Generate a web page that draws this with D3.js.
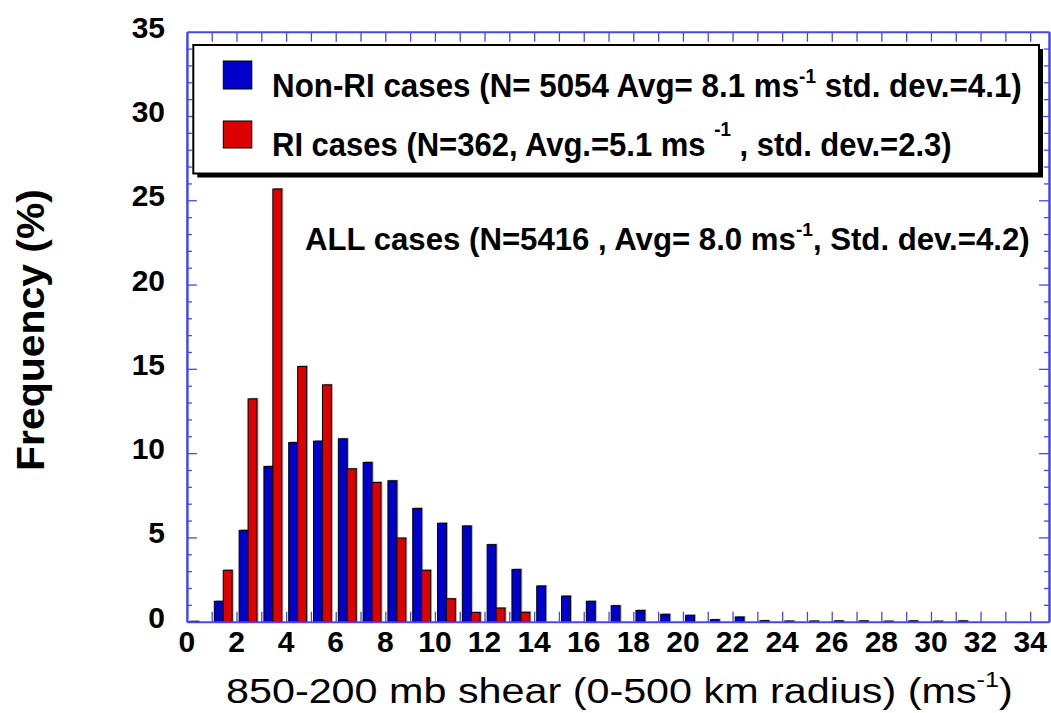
<!DOCTYPE html>
<html>
<head>
<meta charset="utf-8">
<script src="https://cdn.jsdelivr.net/npm/d3@7"></script>
<style>
  body { margin: 0; background: #fff; }
  svg text { font-family: "Liberation Sans", Arial, Helvetica, sans-serif; }
</style>
</head>
<body>
<svg id="chart" width="1051" height="713"></svg>
<script>
// shear bins (m/s), one bar pair per 1 m/s bin
const bins = d3.range(0, 32);
// Non-RI frequency (%)
const nonRI = [0.02, 1.21, 5.42, 9.21, 10.63, 10.71, 10.85, 9.45, 8.36, 6.72,
  5.84, 5.68, 4.57, 3.10, 2.12, 1.52, 1.21, 0.95, 0.67, 0.44,
  0.38, 0.12, 0.28, 0.06, 0.04, 0.04, 0.05, 0.05, 0.03, 0.05, 0.03, 0.05];
// RI frequency (%)
const ri = [0, 3.05, 13.22, 25.67, 15.14, 14.05, 9.07, 8.26, 4.96, 3.05,
  1.36, 0.55, 0.81, 0.56, 0, 0, 0, 0, 0, 0,
  0, 0, 0, 0, 0, 0, 0, 0, 0, 0, 0, 0];
const xLabels = d3.range(0, 35, 2);
const yLabels = d3.range(0, 40, 5);

const svg = d3.select("#chart");
const axisCol = "#4848e6";

let x = d3.scaleLinear().domain([0, 34.76]).range([186.9, 1049]);
let y = d3.scaleLinear().domain([0, 35]).range([621.7, 31.7]);

// squeeze a text node to a target width
function fit(t, x0, w) {
  let bw = t.node().getBBox().width;
  t.attr("transform", "translate(" + x0 + ",0) scale(" + (w / bw) + ",1)");
}

// bars
let barW = 0.36, off = 0.105;
let g = svg.append("g");
bins.forEach((b, i) => {
  [[nonRI[i], off, "#0000cc"], [ri[i], off + barW, "#dd0000"]].forEach(s => {
    if (s[0] <= 0) return;
    let x0 = x(b + s[1]), x1 = x(b + s[1] + barW);
    g.append("rect")
      .attr("x", x0 + 1.5).attr("y", y(s[0]) - 1)
      .attr("width", x1 - x0).attr("height", y(0) - y(s[0]) + 1)
      .attr("fill", "#aaa");
    g.append("rect")
      .attr("x", x0).attr("y", y(s[0]))
      .attr("width", x1 - x0).attr("height", Math.max(y(0) - y(s[0]), 0.8))
      .attr("fill", s[2]).attr("stroke", "#000").attr("stroke-width", 1);
  });
});

// axes frame
let ticks1 = d3.range(1, 35);
let yMinor = d3.range(1, 35).filter(d => d % 5 != 0);
let yMajor = d3.range(5, 35, 5);

function styleAxis(a) {
  a.selectAll("path").attr("stroke", axisCol).attr("stroke-width", 2);
  a.selectAll("line").attr("stroke", axisCol).attr("stroke-width", 1.3);
}

let xb = svg.append("g").attr("transform", "translate(0," + y(0) + ")")
  .call(d3.axisBottom(x).tickValues(ticks1).tickSize(-10).tickSizeOuter(0).tickFormat(""));
styleAxis(xb);
let xt = svg.append("g").attr("transform", "translate(0," + y(35) + ")")
  .call(d3.axisTop(x).tickValues(ticks1).tickSize(-10).tickSizeOuter(0).tickFormat(""));
styleAxis(xt);
[[d3.axisLeft, x(0)], [d3.axisRight, x(34.76)]].forEach(p => {
  let a1 = svg.append("g").attr("transform", "translate(" + p[1] + ",0)")
    .call(p[0](y).tickValues(yMinor).tickSize(-5).tickSizeOuter(0).tickFormat(""));
  styleAxis(a1);
  let a2 = svg.append("g").attr("transform", "translate(" + p[1] + ",0)")
    .call(p[0](y).tickValues(yMajor).tickSize(-10).tickSizeOuter(0).tickFormat(""));
  styleAxis(a2);
});

// tick labels
svg.append("g").selectAll("text").data(xLabels).join("text")
  .attr("x", d => x(d)).attr("y", 652)
  .attr("text-anchor", "middle").attr("font-size", 30).attr("font-weight", "bold")
  .text(d => d);
svg.append("g").selectAll("text").data(yLabels).join("text")
  .attr("x", 165).attr("y", d => y(d) + 6)
  .attr("text-anchor", "end").attr("font-size", 30).attr("font-weight", "bold")
  .text(d => d);

// axis titles
let xt2 = svg.append("text").attr("y", 703).attr("font-size", 36);
xt2.append("tspan").text("850-200 mb shear (0-500 km radius) (ms");
xt2.append("tspan").attr("font-size", 22).attr("dy", -16).text("-1");
xt2.append("tspan").attr("dy", 16).text(")");
fit(xt2, 226, 787);

svg.append("text")
  .attr("transform", "translate(44,330) rotate(-90)")
  .attr("text-anchor", "middle").attr("font-size", 38).attr("font-weight", "bold")
  .attr("textLength", 282).attr("lengthAdjust", "spacingAndGlyphs")
  .text("Frequency (%)");

// legend box
let lb = { x: 193.3, y: 45, w: 845.7, h: 128.5 };
svg.append("rect").attr("x", lb.x + 4).attr("y", lb.y + 4).attr("width", lb.w).attr("height", lb.h)
  .attr("fill", "#000");
svg.append("rect").attr("x", lb.x).attr("y", lb.y).attr("width", lb.w).attr("height", lb.h)
  .attr("fill", "#fff").attr("stroke", "#000").attr("stroke-width", 2);

svg.append("rect").attr("x", 223.3).attr("y", 61).attr("width", 28.5).attr("height", 28)
  .attr("fill", "#0000cc").attr("stroke", "#000").attr("stroke-width", 1);
svg.append("rect").attr("x", 223.3).attr("y", 121).attr("width", 28.5).attr("height", 27)
  .attr("fill", "#dd0000").attr("stroke", "#000").attr("stroke-width", 1);

let l1 = svg.append("text").attr("y", 97).attr("font-size", 33).attr("font-weight", "bold");
l1.append("tspan").text("Non-RI cases (N= 5054 Avg= 8.1 ms");
l1.append("tspan").attr("font-size", 20).attr("dy", -14).text("-1");
l1.append("tspan").attr("dy", 14).text(" std. dev.=4.1)");
fit(l1, 272, 750);

let l2 = svg.append("text").attr("y", 156).attr("font-size", 33).attr("font-weight", "bold");
l2.append("tspan").text("RI cases (N=362, Avg.=5.1 ms ");
l2.append("tspan").attr("font-size", 20).attr("dy", -20).text("-1");
l2.append("tspan").attr("dy", 20).text(" , std. dev.=2.3)");
fit(l2, 272, 680);

let l3 = svg.append("text").attr("y", 250).attr("font-size", 31).attr("font-weight", "bold");
l3.append("tspan").text("ALL cases (N=5416 , Avg= 8.0 ms");
l3.append("tspan").attr("font-size", 19).attr("dy", -14).text("-1");
l3.append("tspan").attr("dy", 14).text(", Std. dev.=4.2)");
fit(l3, 305, 725);
</script>
</body>
</html>
